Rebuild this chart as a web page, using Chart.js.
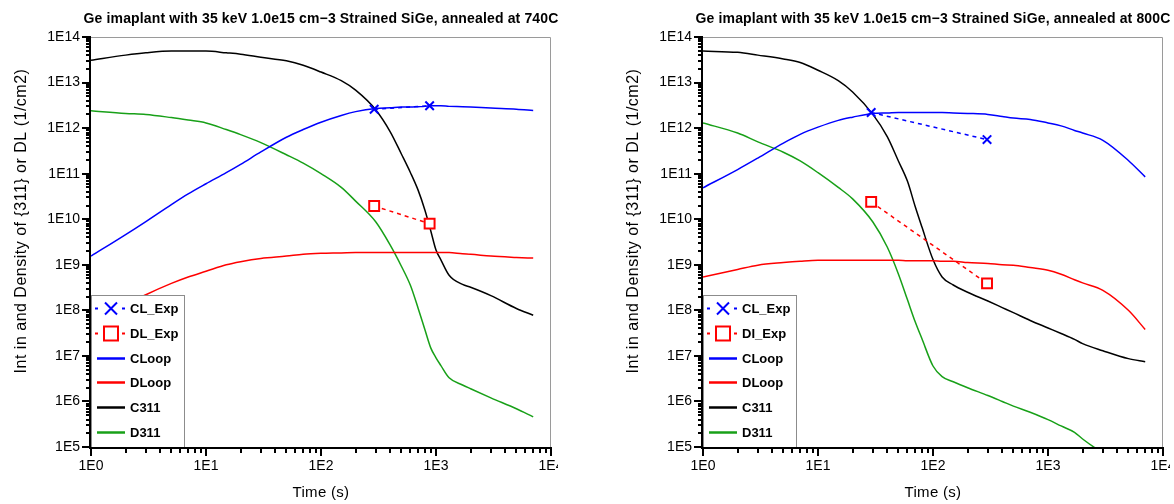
<!DOCTYPE html>
<html>
<head>
<meta charset="utf-8">
<script src="https://cdn.jsdelivr.net/npm/chart.js@4.4.1/dist/chart.umd.min.js"></script>
<style>
  body { margin: 0; background: #fff; width: 1174px; height: 504px; position: relative; overflow: hidden; }
  .panel { position: absolute; top: 0; width: 558px; height: 504px; overflow: hidden; }
  .panel canvas { position: absolute; left: 0; top: 0; }
</style>
</head>
<body>
<div class="panel" style="left:0"><canvas id="chart740" width="600" height="504"></canvas></div>
<div class="panel" style="left:612px"><canvas id="chart800" width="600" height="504"></canvas></div>
<script>
// axis decades (tick labels are 1E<exp>)
const xTickExps = [0, 1, 2, 3, 4];
const yTickExps = [5, 6, 7, 8, 9, 10, 11, 12, 13, 14];

const title740 = 'Ge imaplant with 35 keV 1.0e15 cm\u22123 Strained SiGe, annealed at 740C';
const title800 = 'Ge imaplant with 35 keV 1.0e15 cm\u22123 Strained SiGe, annealed at 800C';
const labels740 = ['CL_Exp', 'DL_Exp', 'CLoop', 'DLoop', 'C311', 'D311'];
const labels800 = ['CL_Exp', 'DI_Exp', 'CLoop', 'DLoop', 'C311', 'D311'];
const xTitle = 'Time (s)';
const yTitle = 'Int in and Density of {311} or DL (1/cm2)';

// ---- 740C ----
const time740 = [1, 2, 3, 5, 7, 10, 15, 20, 30, 50, 70, 100, 150, 200, 300, 400, 500, 600, 700, 800, 900, 1000, 1100, 1300, 1700, 2000, 3000, 5000, 7000];
const cloop740 = [1.55e9, 4.6e9, 8.9e9, 2.1e10, 3.6e10, 6.0e10, 1.05e11, 1.6e11, 3.0e11, 6.3e11, 9.3e11, 1.35e12, 1.9e12, 2.3e12, 2.7e12, 2.8e12, 2.9e12, 2.9e12, 2.95e12, 3.0e12, 3.1e12, 3.1e12, 3.1e12, 3.0e12, 2.95e12, 2.9e12, 2.75e12, 2.6e12, 2.45e12];
const dloop740 = [7.1e7, 1.3e8, 2.2e8, 3.9e8, 5.4e8, 7.2e8, 1.0e9, 1.17e9, 1.38e9, 1.55e9, 1.7e9, 1.78e9, 1.82e9, 1.86e9, 1.86e9, 1.86e9, 1.86e9, 1.86e9, 1.86e9, 1.86e9, 1.86e9, 1.86e9, 1.86e9, 1.85e9, 1.74e9, 1.7e9, 1.55e9, 1.45e9, 1.4e9];
const c311_740 = [3.1e13, 4.0e13, 4.5e13, 4.9e13, 4.9e13, 4.9e13, 4.5e13, 4.2e13, 3.6e13, 3.0e13, 2.4e13, 1.7e13, 1.1e13, 6.8e12, 2.5e12, 8.3e11, 2.7e11, 1.05e11, 4.3e10, 1.6e10, 5.6e9, 2.1e9, 1.3e9, 5.9e8, 3.7e8, 3.2e8, 2.1e8, 1.1e8, 7.8e7];
const d311_740 = [2.4e12, 2.1e12, 2.0e12, 1.7e12, 1.5e12, 1.3e12, 9.3e11, 7.2e11, 4.8e11, 2.6e11, 1.7e11, 1.0e11, 5.0e10, 2.5e10, 8.7e9, 2.7e9, 9.3e8, 3.5e8, 1.1e8, 3.8e7, 1.5e7, 9.1e6, 6.2e6, 3.3e6, 2.3e6, 1.9e6, 1.2e6, 6.9e5, 4.6e5];
const expTime740 = [290, 880];
const clExp740 = [2.6e12, 3.1e12];
const dlExp740 = [1.95e10, 8.0e9];

// ---- 800C ----
const time800 = [1, 2, 3, 5, 7, 10, 15, 20, 30, 40, 50, 60, 70, 80, 100, 120, 150, 200, 300, 400, 500, 700, 1000, 1300, 1700, 2000, 3000, 5000, 7000];
const cloop800 = [4.9e10, 1.23e11, 2.2e11, 4.7e11, 7.3e11, 1.05e12, 1.48e12, 1.74e12, 2.1e12, 2.15e12, 2.2e12, 2.2e12, 2.2e12, 2.2e12, 2.2e12, 2.2e12, 2.15e12, 2.1e12, 2.0e12, 1.8e12, 1.66e12, 1.55e12, 1.3e12, 1.12e12, 8.9e11, 7.8e11, 5.4e11, 1.95e11, 8.5e10];
const dloop800 = [5.4e8, 7.9e8, 9.8e8, 1.12e9, 1.2e9, 1.26e9, 1.26e9, 1.26e9, 1.26e9, 1.26e9, 1.26e9, 1.23e9, 1.23e9, 1.23e9, 1.23e9, 1.2e9, 1.2e9, 1.12e9, 1.07e9, 1.0e9, 9.8e8, 8.7e8, 7.6e8, 6.2e8, 4.7e8, 4.0e8, 2.75e8, 1.0e8, 3.8e7];
const c311_800 = [4.9e13, 4.6e13, 4.0e13, 3.3e13, 2.75e13, 1.86e13, 1.1e13, 6.2e12, 2.0e12, 6.5e11, 1.9e11, 6.8e10, 1.9e10, 6.8e9, 1.3e9, 5.4e8, 3.6e8, 2.5e8, 1.6e8, 1.15e8, 8.9e7, 6.0e7, 4.1e7, 3.1e7, 2.3e7, 1.86e7, 1.3e7, 8.7e6, 7.4e6];
const d311_800 = [1.3e12, 7.8e11, 5.0e11, 2.95e11, 1.9e11, 1.05e11, 5.0e10, 2.8e10, 8.7e9, 2.45e9, 6.3e8, 1.7e8, 5.6e7, 2.4e7, 6.0e6, 3.5e6, 2.7e6, 2.0e6, 1.35e6, 1.0e6, 7.9e5, 5.8e5, 4.0e5, 2.9e5, 2.1e5, 1.5e5, 7.5e4, 4.5e4, 3.3e4];
const expTime800 = [29, 295];
const clExp800 = [2.2e12, 5.6e11];
const dlExp800 = [2.4e10, 3.9e8];

const BLUE = '#0000ff', RED = '#ff0000', BLACK = '#000000', GREEN = '#18a018';
const FONT = '"Liberation Sans", Arial, Helvetica, sans-serif';

function decadeTicks(exps) {
  const vals = [];
  exps.forEach((e, i) => {
    vals.push(Math.pow(10, e));
    if (i < exps.length - 1) {
      for (let m = 2; m <= 9; m++) vals.push(m * Math.pow(10, e));
    }
  });
  return vals;
}

function isDecade(v) {
  const e = Math.log10(v);
  return Math.abs(e - Math.round(e)) < 1e-9;
}

function toPoints(xs, ys) {
  return xs.map((x, i) => ({ x: x, y: ys[i] }));
}

// plot frame, axes, ticks and titles drawn over everything
const framePlugin = {
  id: 'frame',
  afterDraw(chart, args, opts) {
    const { ctx, chartArea: a, scales: { x, y } } = chart;
    ctx.save();
    // thin grey top / right border
    ctx.strokeStyle = '#9a9a9a';
    ctx.lineWidth = 1;
    ctx.beginPath();
    ctx.moveTo(a.left, a.top + 0.5);
    ctx.lineTo(a.right - 0.5, a.top + 0.5);
    ctx.lineTo(a.right - 0.5, a.bottom);
    ctx.stroke();

    // black axes
    ctx.strokeStyle = '#000';
    ctx.lineWidth = 2;
    ctx.beginPath();
    ctx.moveTo(a.left - 1, a.top);
    ctx.lineTo(a.left - 1, a.bottom + 1);
    ctx.lineTo(a.right, a.bottom + 1);
    ctx.stroke();

    // ticks
    ctx.beginPath();
    x.ticks.forEach(t => {
      const px = Math.round(x.getPixelForValue(t.value));
      const len = isDecade(t.value) ? 8 : 5;
      ctx.moveTo(px, a.bottom);
      ctx.lineTo(px, a.bottom + 1 + len);
    });
    y.ticks.forEach(t => {
      const py = Math.round(y.getPixelForValue(t.value));
      const len = isDecade(t.value) ? 8 : 4;
      ctx.moveTo(a.left, py);
      ctx.lineTo(a.left - 1 - len, py);
    });
    ctx.stroke();

    // titles
    ctx.fillStyle = '#000';
    ctx.textAlign = 'center';
    ctx.textBaseline = 'middle';
    ctx.font = 'bold 14px ' + FONT;
    ctx.letterSpacing = '0.15px';
    ctx.fillText(opts.title, (a.left + a.right) / 2, 19);
    ctx.font = '15px ' + FONT;
    ctx.letterSpacing = '0.3px';
    ctx.fillText(xTitle, (a.left + a.right) / 2, 493);
    ctx.font = '16px ' + FONT;
    ctx.letterSpacing = '0.5px';
    ctx.translate(22, 221);
    ctx.rotate(-Math.PI / 2);
    ctx.fillText(yTitle, 0, 0);
    ctx.restore();
  }
};

// legend box in the lower left corner of the plot
const legendPlugin = {
  id: 'boxLegend',
  afterDatasetsDraw(chart) {
    const { ctx, chartArea: a } = chart;
    const w = 93, h = 152;
    const x0 = a.left, y0 = a.bottom - h;
    ctx.save();
    ctx.fillStyle = '#fff';
    ctx.fillRect(x0, y0, w, h);
    ctx.strokeStyle = '#8c8c8c';
    ctx.lineWidth = 1;
    ctx.strokeRect(x0 + 0.5, y0 + 0.5, w, h);

    chart.data.datasets.forEach((ds, i) => {
      const cy = Math.round(y0 + 13 + i * 24.8) + 0.5;
      ctx.strokeStyle = ds.borderColor;
      ctx.lineWidth = 2;
      if (ds.borderDash) {
        ctx.setLineDash([3, 24]);
        ctx.beginPath();
        ctx.moveTo(x0 + 4, cy);
        ctx.lineTo(x0 + 34, cy);
        ctx.stroke();
        ctx.setLineDash([]);
        const mx = x0 + 20;
        ctx.beginPath();
        if (ds.pointStyle === 'rect') {
          ctx.fillStyle = '#fff';
          ctx.fillRect(mx - 7, cy - 7, 14, 14);
          ctx.rect(mx - 7, cy - 7, 14, 14);
        } else {
          ctx.moveTo(mx - 6, cy - 6); ctx.lineTo(mx + 6, cy + 6);
          ctx.moveTo(mx - 6, cy + 6); ctx.lineTo(mx + 6, cy - 6);
        }
        ctx.stroke();
      } else {
        ctx.lineWidth = 2.5;
        ctx.beginPath();
        ctx.moveTo(x0 + 6, cy);
        ctx.lineTo(x0 + 34, cy);
        ctx.stroke();
      }
      ctx.fillStyle = '#000';
      ctx.font = 'bold 13px ' + FONT;
      ctx.textAlign = 'left';
      ctx.textBaseline = 'middle';
      ctx.fillText(ds.label, x0 + 39, cy + 1);
    });
    ctx.restore();
  }
};

function makeChart(id, title, labels, time, cloop, dloop, c311, d311, expTime, clExp, dlExp) {
  const line = (label, color, xs, ys) => ({
    label: label,
    data: toPoints(xs, ys),
    borderColor: color,
    borderWidth: 1.5,
    pointRadius: 0,
    cubicInterpolationMode: 'monotone',
    fill: false
  });

  const datasets = [
    {
      label: labels[0],
      data: toPoints(expTime, clExp),
      borderColor: BLUE,
      backgroundColor: BLUE,
      borderWidth: 1.5,
      borderDash: [4, 4],
      pointStyle: 'crossRot',
      pointRadius: 6,
      pointBorderWidth: 2
    },
    {
      label: labels[1],
      data: toPoints(expTime, dlExp),
      borderColor: RED,
      backgroundColor: '#fff',
      borderWidth: 1.5,
      borderDash: [4, 4],
      pointStyle: 'rect',
      pointRadius: 7,
      pointBorderWidth: 2
    },
    line(labels[2], BLUE, time, cloop),
    line(labels[3], RED, time, dloop),
    line(labels[4], BLACK, time, c311),
    line(labels[5], GREEN, time, d311)
  ];

  const tickFont = { family: FONT, size: 14 };

  return new Chart(document.getElementById(id), {
    type: 'line',
    data: { datasets: datasets },
    options: {
      responsive: false,
      animation: false,
      devicePixelRatio: 1,
      layout: { padding: { top: 37, right: 49, bottom: 0, left: 0 } },
      plugins: {
        legend: { display: false },
        title: { display: false },
        tooltip: { enabled: false },
        frame: { title: title }
      },
      scales: {
        x: {
          type: 'logarithmic',
          min: 1,
          max: 1e4,
          afterBuildTicks: s => { s.ticks = decadeTicks(xTickExps).map(v => ({ value: v })); },
          afterFit: s => { s.height = 57; s.paddingLeft = 0; s.paddingRight = 0; },
          grid: { drawOnChartArea: false, drawTicks: true, tickLength: 8, color: 'rgba(0,0,0,0)' },
          border: { display: false },
          ticks: {
            autoSkip: false,
            maxRotation: 0,
            minRotation: 0,
            padding: 3,
            color: '#000',
            font: tickFont,
            callback: v => isDecade(v) ? '1E' + Math.round(Math.log10(v)) : ''
          }
        },
        y: {
          type: 'logarithmic',
          min: 1e5,
          max: 1e14,
          afterBuildTicks: s => { s.ticks = decadeTicks(yTickExps).map(v => ({ value: v })); },
          afterFit: s => { s.width = 91; s.paddingTop = 0; s.paddingBottom = 0; },
          grid: { drawOnChartArea: false, drawTicks: true, tickLength: 8, color: 'rgba(0,0,0,0)' },
          border: { display: false },
          ticks: {
            autoSkip: false,
            padding: 3,
            color: '#000',
            font: tickFont,
            callback: v => isDecade(v) ? '1E' + Math.round(Math.log10(v)) : ''
          }
        }
      }
    },
    plugins: [legendPlugin, framePlugin]
  });
}

makeChart('chart740', title740, labels740, time740, cloop740, dloop740, c311_740, d311_740, expTime740, clExp740, dlExp740);
makeChart('chart800', title800, labels800, time800, cloop800, dloop800, c311_800, d311_800, expTime800, clExp800, dlExp800);
</script>
</body>
</html>
